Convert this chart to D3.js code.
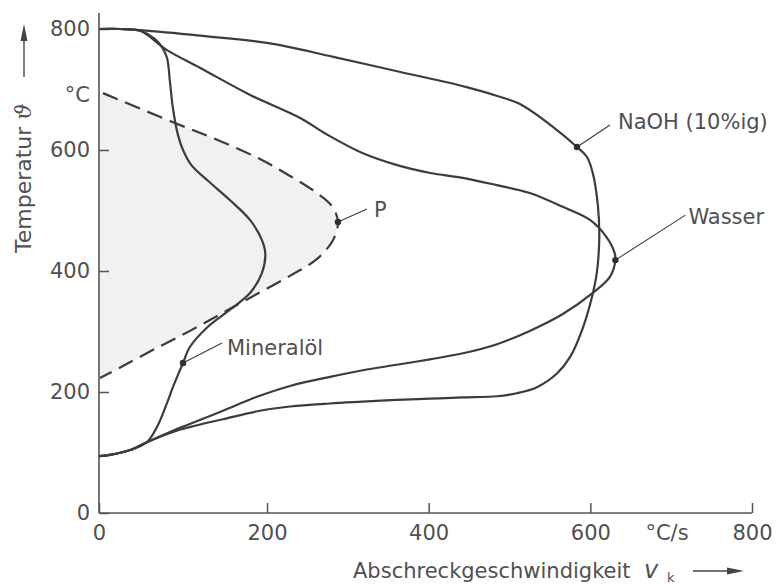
<!DOCTYPE html>
<html>
<head>
<meta charset="utf-8">
<script src="https://cdn.jsdelivr.net/npm/d3@7"></script>
<style>
  body { margin: 0; background: #fff; }
  svg { display: block; }
  text { font-family: "DejaVu Sans", sans-serif; fill: #505050; }
</style>
</head>
<body>
<svg id="chart" width="777" height="585"></svg>
<script>
// Tick values of both axes (°C/s and °C)
const xTicks = [0, 200, 400, 600, 800];
const yTicks = [0, 200, 400, 600, 800];

// Cooling-rate curves: [Abschreckgeschwindigkeit °C/s, Temperatur °C]
const naoh = [
  [0, 800], [25, 800], [49, 798], [120, 789], [200, 777], [282, 754], [365, 729],
  [447, 704], [488, 688], [513, 676], [554, 638], [583.5, 605], [596, 588], [603, 562],
  [609.5, 506], [611, 451], [608, 397], [602, 357], [591, 307], [575, 258], [559, 231],
  [534, 208], [509, 198], [484.5, 193], [442.5, 191], [401.5, 189], [360.6, 187],
  [318.5, 184], [278, 181], [228.5, 176], [191.7, 169], [147.6, 155], [108, 142],
  [88, 134], [57, 117], [37, 104], [13, 96], [0, 94]
];
const wasser = [
  [0, 800], [25, 800], [49, 797], [81, 765], [120, 736], [180, 691], [241, 653],
  [275, 625], [318, 595], [361, 575], [402, 562], [442, 554], [484, 542], [525, 529],
  [566, 506], [600, 484], [620, 456], [630, 430], [631, 418], [624, 390], [603, 364],
  [566, 329], [525, 301], [484.5, 279], [442.5, 264], [401.5, 254], [360.6, 245],
  [318.5, 236], [278, 225], [228.5, 210], [188, 192], [147.6, 169], [108, 147],
  [88, 136], [57, 117], [37, 104], [13, 96], [0, 94]
];
const mineraloel = [
  [0, 800], [25, 800], [49, 797], [66, 784], [75, 770], [81, 752], [84.5, 712],
  [88, 669], [94, 625], [100, 600], [110, 575], [129, 550], [156, 517], [180, 484],
  [194, 451], [198, 428], [194, 397], [180, 364], [156, 336], [129, 307], [108, 274],
  [100, 248], [88, 208], [81, 182], [69, 142], [57, 117], [37, 104], [13, 96], [0, 94]
];
// Critical cooling curve (dashed) with nose P
const kritisch = [
  [4.8, 694], [88, 646], [144, 615], [191.7, 585], [228.5, 557], [259.4, 531],
  [280.4, 507], [287.8, 481], [281.6, 451], [261.9, 420], [228.5, 392], [188, 362],
  [147.6, 331], [108.3, 301], [69, 273], [28.6, 243], [1.2, 223]
];

// Annotated points on the curves
const labelNames = ["NaOH (10%ig)", "Wasser", "P", "Mineralöl"];
const labelPoints = [[583.5, 605], [631, 418], [287.8, 481], [100, 248]];

const svg = d3.select("#chart");

const x = d3.scaleLinear().domain([0, 200, 800]).range([99, 267, 752]);
const y = d3.scaleLinear().domain([0, 800]).range([513, 29]);

const ink = "#3c3c3c";
const line = d3.line().x(d => x(d[0])).y(d => y(d[1])).curve(d3.curveCatmullRom.alpha(0.5));

// Shaded region between the temperature axis and the dashed curve
const area = [[0, kritisch[0][1]], ...kritisch, [0, kritisch[kritisch.length - 1][1]]];
svg.append("path")
  .attr("d", line(area) + "Z")
  .attr("fill", "#eff1f3")
  .attr("stroke", "none");

// Axes
const xAxis = svg.append("g").attr("transform", `translate(0,${y(0)})`)
  .call(d3.axisBottom(x).tickValues(xTicks).tickSizeInner(-10).tickSizeOuter(0).tickPadding(12));
const yAxis = svg.append("g").attr("transform", `translate(${x(0)},0)`)
  .call(d3.axisLeft(y).tickValues(yTicks).tickSizeInner(-10).tickSizeOuter(0).tickPadding(9));
[xAxis, yAxis].forEach(g => {
  g.select(".domain").remove();
  g.selectAll(".tick line").attr("stroke", "#555").attr("stroke-width", 1.5);
  g.selectAll(".tick text").attr("font-size", 21).attr("fill", "#505050")
    .attr("font-family", "DejaVu Sans, sans-serif");
});
svg.append("line").attr("x1", x(0)).attr("x2", x(800)).attr("y1", y(0)).attr("y2", y(0))
  .attr("stroke", "#555").attr("stroke-width", 1.6);
svg.append("line").attr("x1", x(0)).attr("x2", x(0)).attr("y1", y(0)).attr("y2", 13)
  .attr("stroke", "#555").attr("stroke-width", 1.6);

// Units
svg.append("text").attr("x", 90).attr("y", 95).attr("dy", "0.35em")
  .attr("text-anchor", "end").attr("font-size", 21).text("°C");
svg.append("text").attr("x", 667).attr("y", y(0) + 12).attr("dy", "0.71em")
  .attr("text-anchor", "middle").attr("font-size", 21).text("°C/s");

// Curves
[naoh, wasser, mineraloel].forEach(c => {
  svg.append("path").attr("d", line(c)).attr("fill", "none")
    .attr("stroke", ink).attr("stroke-width", 2.2);
});
svg.append("path").attr("d", line(kritisch)).attr("fill", "none")
  .attr("stroke", ink).attr("stroke-width", 2.2).attr("stroke-dasharray", "16 8");

// Labels with leader lines
const leader = [[33, -22], [70, -45], [29, -13], [39, -20]];
const textOff = [[41, -25], [73, -43], [36, -12], [44, -15]];
labelPoints.forEach((p, i) => {
  const px = x(p[0]), py = y(p[1]);
  svg.append("line").attr("x1", px).attr("y1", py)
    .attr("x2", px + leader[i][0]).attr("y2", py + leader[i][1])
    .attr("stroke", ink).attr("stroke-width", 1.1);
  svg.append("circle").attr("cx", px).attr("cy", py).attr("r", 3.2).attr("fill", "#2e2e2e");
  svg.append("text").attr("x", px + textOff[i][0]).attr("y", py + textOff[i][1])
    .attr("dy", "0.35em").attr("font-size", 21).text(labelNames[i]);
});

// Axis titles with arrows
const yTitle = svg.append("text").attr("transform", "translate(31,253) rotate(-90)")
  .attr("font-size", 22);
yTitle.append("tspan").text("Temperatur ");
yTitle.append("tspan").attr("font-family", "DejaVu Serif, serif").attr("font-style", "italic")
  .attr("font-size", 23).text("ϑ");
svg.append("line").attr("x1", 24).attr("x2", 24).attr("y1", 77).attr("y2", 38)
  .attr("stroke", "#444").attr("stroke-width", 1.4);
svg.append("path").attr("d", "M24,24 L20.5,41 L27.5,41 Z").attr("fill", "#444");

svg.append("text").attr("x", 353).attr("y", 578).attr("font-size", 21)
  .text("Abschreckgeschwindigkeit");
svg.append("text").attr("x", 644).attr("y", 578).attr("font-size", 24)
  .attr("font-family", "Liberation Serif, serif").attr("font-style", "italic").text("v");
svg.append("text").attr("x", 667).attr("y", 582).attr("font-size", 13).text("k");
svg.append("line").attr("x1", 693).attr("x2", 730).attr("y1", 571).attr("y2", 571)
  .attr("stroke", "#444").attr("stroke-width", 1.4);
svg.append("path").attr("d", "M744,571 L727,567.5 L727,574.5 Z").attr("fill", "#444");
</script>
</body>
</html>
